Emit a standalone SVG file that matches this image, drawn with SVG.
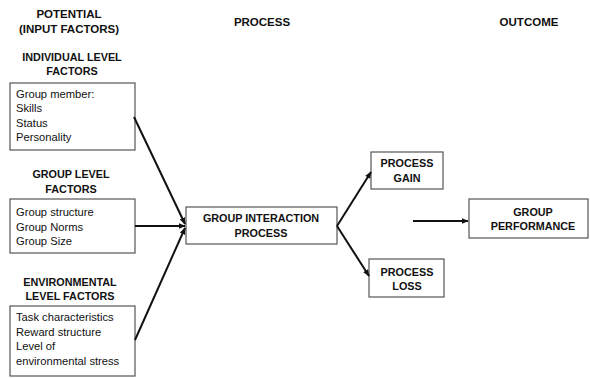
<svg xmlns="http://www.w3.org/2000/svg" width="590" height="378" viewBox="0 0 590 378">
<style>
.h{font-family:"Liberation Sans",Arial,sans-serif;font-weight:bold;font-size:11.5px;fill:#111;text-anchor:middle}
.s{font-family:"Liberation Sans",Arial,sans-serif;font-weight:bold;font-size:10.8px;fill:#111;text-anchor:middle}
.t{font-family:"Liberation Sans",Arial,sans-serif;font-size:11.2px;fill:#111}
.b{fill:#fff;stroke:#555;stroke-width:1.2}
.c{stroke:#111;stroke-width:2;fill:none;marker-end:url(#ah)}
</style>
<defs>
<marker id="ah" viewBox="0 0 10 10" refX="9" refY="5" markerWidth="3.5" markerHeight="3.5" orient="auto" markerUnits="strokeWidth">
<path d="M0,1 L10,5 L0,9 z" fill="#111"/>
</marker>
</defs>
<rect width="590" height="378" fill="#fff"/>
<g id="headers">
<text class="h" x="69" y="18">POTENTIAL</text>
<text class="h" x="69" y="33">(INPUT FACTORS)</text>
<text class="h" x="262" y="26">PROCESS</text>
<text class="h" x="529" y="26">OUTCOME</text>
</g>
<g id="individual">
<text class="s" x="72" y="61">INDIVIDUAL LEVEL</text>
<text class="s" x="72" y="75">FACTORS</text>
<rect class="b" x="10" y="83" width="125" height="67"/>
<text class="t" x="16" y="98">Group member:</text>
<text class="t" x="16" y="112">Skills</text>
<text class="t" x="16" y="127">Status</text>
<text class="t" x="16" y="141">Personality</text>
</g>
<g id="group">
<text class="s" x="71" y="178">GROUP LEVEL</text>
<text class="s" x="71" y="193">FACTORS</text>
<rect class="b" x="10" y="199" width="125" height="54"/>
<text class="t" x="16" y="216">Group structure</text>
<text class="t" x="16" y="231">Group Norms</text>
<text class="t" x="16" y="245">Group Size</text>
</g>
<g id="environmental">
<text class="s" x="70" y="286">ENVIRONMENTAL</text>
<text class="s" x="70" y="300">LEVEL FACTORS</text>
<rect class="b" x="10" y="306" width="125" height="70"/>
<text class="t" x="16" y="321">Task characteristics</text>
<text class="t" x="16" y="336">Reward structure</text>
<text class="t" x="16" y="350">Level of</text>
<text class="t" x="16" y="365">environmental stress</text>
</g>
<g id="interaction">
<rect class="b" x="186" y="207" width="151" height="37"/>
<text class="s" x="261" y="222">GROUP INTERACTION</text>
<text class="s" x="261" y="237">PROCESS</text>
</g>
<g id="gain">
<rect class="b" x="371" y="152" width="72" height="37"/>
<text class="s" x="407" y="167">PROCESS</text>
<text class="s" x="407" y="182">GAIN</text>
</g>
<g id="loss">
<rect class="b" x="369" y="259" width="75" height="38"/>
<text class="s" x="407" y="276">PROCESS</text>
<text class="s" x="407" y="290">LOSS</text>
</g>
<g id="performance">
<rect class="b" x="469" y="199" width="119" height="39"/>
<text class="s" x="533" y="216">GROUP</text>
<text class="s" x="533" y="230">PERFORMANCE</text>
</g>
<g id="connectors">
<line class="c" x1="134" y1="117" x2="185" y2="224"/>
<line class="c" x1="135" y1="226" x2="185" y2="226"/>
<line class="c" x1="135" y1="340" x2="185" y2="228"/>
<line class="c" x1="337" y1="226" x2="371" y2="172"/>
<line class="c" x1="337" y1="226" x2="369" y2="276"/>
<line class="c" x1="413" y1="221" x2="468" y2="221"/>
</g>
</svg>
